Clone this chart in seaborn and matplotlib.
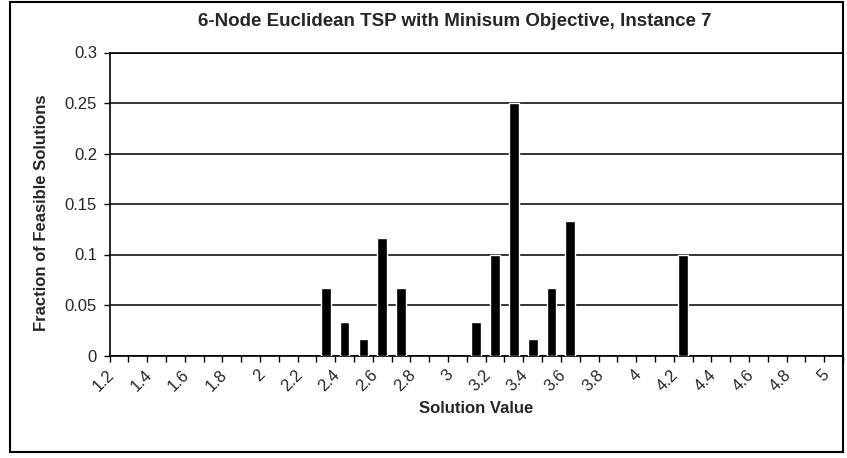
import pandas as pd
import matplotlib
matplotlib.use("Agg")
import matplotlib.pyplot as plt
import matplotlib.transforms as mtransforms
from matplotlib.patches import Rectangle
import seaborn as sns

# category axis: every solution value from 1.2 to 5.0
categories = [
    "1.2", "1.3", "1.4", "1.5", "1.6", "1.7", "1.8", "1.9", "2.0", "2.1",
    "2.2", "2.3", "2.4", "2.5", "2.6", "2.7", "2.8", "2.9", "3.0", "3.1",
    "3.2", "3.3", "3.4", "3.5", "3.6", "3.7", "3.8", "3.9", "4.0", "4.1",
    "4.2", "4.3", "4.4", "4.5", "4.6", "4.7", "4.8", "4.9", "5.0",
]
tick_labels = ["1.2", "1.4", "1.6", "1.8", "2", "2.2", "2.4", "2.6", "2.8", "3",
               "3.2", "3.4", "3.6", "3.8", "4", "4.2", "4.4", "4.6", "4.8", "5"]

# solution values that actually occur and their share of the 60 tours
bar_values = ["2.3", "2.4", "2.5", "2.6", "2.7",
              "3.1", "3.2", "3.3", "3.4", "3.5", "3.6", "4.2"]
fractions = [0.0667, 0.0333, 0.0167, 0.1167, 0.0667,
             0.0333, 0.1, 0.25, 0.0167, 0.0667, 0.1333, 0.1]

y_ticks = [0, 0.05, 0.1, 0.15, 0.2, 0.25, 0.3]
y_tick_labels = ["0", "0.05", "0.1", "0.15", "0.2", "0.25", "0.3"]

df = pd.DataFrame({"value": bar_values, "fraction": fractions})

sns.set_style("white")
plt.rcParams["font.family"] = ["Liberation Sans", "DejaVu Sans"]

W, H = 847, 458
fig = plt.figure(figsize=(W / 100, H / 100), dpi=100)
ax = fig.add_axes([109.5 / W, 1 - 355.5 / H, (843 - 109.5) / W, (355.5 - 52.5) / H])

sns.barplot(data=df, x="value", y="fraction", order=categories,
            color="black", saturation=1, width=0.52, ax=ax, zorder=3)

ax.set_xlim(-0.5, len(categories) - 0.5)
ax.set_ylim(0, 0.3)
ax.set_yticks(y_ticks)
ax.set_yticklabels(y_tick_labels, fontsize=12)
ax.yaxis.grid(True, color="black", linewidth=1.1)
ax.set_axisbelow(True)

ax.set_xticks(range(0, len(categories), 2))
ax.set_xticklabels(tick_labels, fontsize=12, rotation=45,
                   ha="right", va="center", rotation_mode="anchor")
ax.set_xticks([i - 0.5 for i in range(len(categories) + 1)], minor=True)
ax.tick_params(axis="x", which="major", length=0, pad=12)
ax.tick_params(axis="x", which="minor", length=4, width=1, direction="out",
               bottom=True, color="black")
ax.tick_params(axis="y", length=4, width=1, direction="out", left=True,
               color="black", pad=5)

shift = mtransforms.ScaledTranslation(-7 / 100, 0, fig.dpi_scale_trans)
for lab in ax.get_xticklabels():
    lab.set_transform(lab.get_transform() + shift)

for side in ["left", "bottom", "top", "right"]:
    ax.spines[side].set_color("black")
    ax.spines[side].set_linewidth(1.2)

ax.set_xlabel("Solution Value", fontsize=12, fontweight="bold", labelpad=5)
ax.set_ylabel("Fraction of Feasible Solutions", fontsize=12,
              fontweight="bold")
ax.yaxis.set_label_coords(-0.083, 0.47)
fig.text(455 / W, 1 - 22 / H,
         "6-Node Euclidean TSP with Minisum Objective, Instance 7",
         ha="center", va="center", fontsize=13.5, fontweight="bold")

# outer chart frame
fig.patches.append(Rectangle((10 / W, 1 - 452 / H), (843 - 10) / W, (452 - 2) / H,
                             transform=fig.transFigure, fill=False,
                             edgecolor="black", linewidth=1.5))

fig.savefig("out.png", dpi=100)
